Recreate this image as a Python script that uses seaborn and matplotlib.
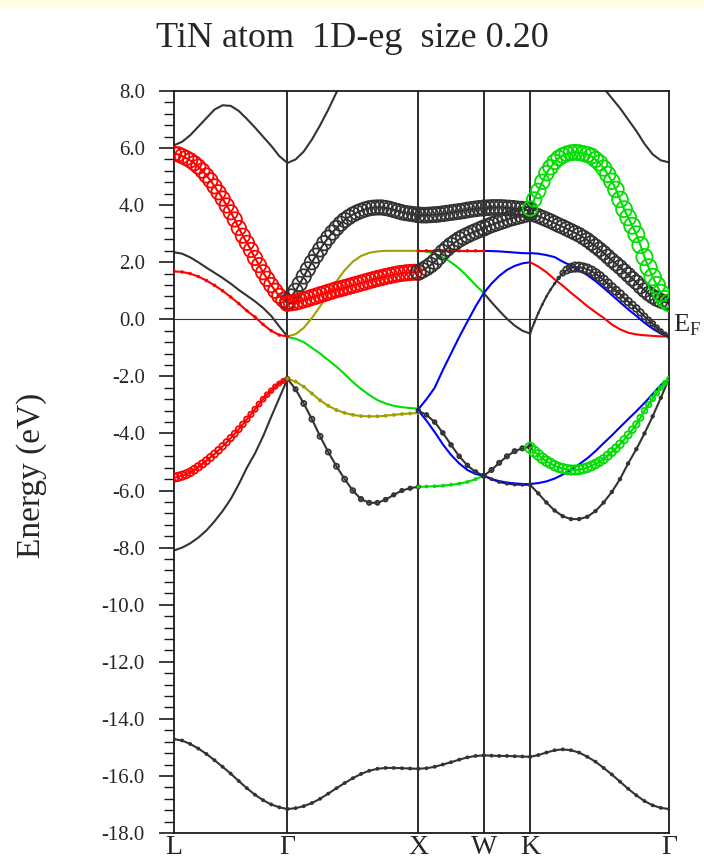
import numpy as np
import pandas as pd
import matplotlib
matplotlib.use("Agg")
import matplotlib.pyplot as plt
import matplotlib.transforms as mtransforms
from matplotlib.patches import Rectangle
from matplotlib.ticker import AutoMinorLocator, FormatStrFormatter
import seaborn as sns

nan = np.nan

# high-symmetry path (fcc), distances in 2pi/a
k_labels = ["L", "Γ", "X", "W", "K", "Γ"]
k_nodes = [0.0, 0.866, 1.866, 2.366, 2.720, 3.781]
# each band list is sampled evenly along its own segment

# ---- L -> Gamma ----
lg_band1 = [-14.71, -14.76, -14.88, -15.04, -15.23, -15.45, -15.68, -15.92, -16.18, -16.43, -16.66, -16.85, -17.0, -17.1, -17.16]
lg_p_black = [-8.1, -8.0, -7.85, -7.65, -7.4, -7.08, -6.72, -6.3, -5.78, -5.2, -4.7, -4.1, -3.42, -2.76, -2.1]
lg_p_red = [-5.55, -5.52, -5.48, -5.43, -5.36, -5.27, -5.17, -5.07, -4.96, -4.84, -4.72, -4.59, -4.45, -4.31, -4.16,
            -4.01, -3.85, -3.68, -3.5, -3.33, -3.15, -2.97, -2.8, -2.64, -2.5, -2.36, -2.25, -2.16, -2.1]
lg_p_red_w = [0.5, 0.5, 0.49, 0.48, 0.47, 0.46, 0.45, 0.44, 0.43, 0.42, 0.41, 0.4, 0.39, 0.38, 0.37,
              0.36, 0.35, 0.34, 0.33, 0.32, 0.31, 0.3, 0.29, 0.28, 0.27, 0.26, 0.25, 0.25, 0.25]
lg_d_red = [1.68, 1.66, 1.6, 1.5, 1.36, 1.19, 1.0, 0.78, 0.55, 0.3, 0.08, -0.18, -0.4, -0.55, -0.6]
lg_d_black = [2.35, 2.3, 2.17, 2.0, 1.81, 1.63, 1.45, 1.25, 1.03, 0.83, 0.63, 0.4, 0.12, -0.25, -0.6]
lg_eg_red = [5.8, 5.78, 5.72, 5.65, 5.57, 5.47, 5.35, 5.21, 5.04, 4.87, 4.66, 4.45, 4.23, 3.99, 3.75,
             3.5, 3.2, 2.93, 2.68, 2.43, 2.15, 1.9, 1.65, 1.42, 1.2, 1.0, 0.82, 0.68, 0.58]
lg_top = [6.1, 6.22, 6.45, 6.75, 7.05, 7.35, 7.5, 7.48, 7.3, 7.02, 6.72, 6.4, 6.08, 5.72, 5.48]

# ---- Gamma -> X ----
gx_band1 = [-17.16, -17.13, -17.06, -16.95, -16.8, -16.62, -16.43, -16.25, -16.08, -15.93, -15.82, -15.75, -15.72, -15.72, -15.73, -15.74, -15.75]
gx_p_black = [-2.08, -2.45, -2.95, -3.5, -4.1, -4.65, -5.15, -5.6, -6.0, -6.3, -6.43, -6.43, -6.32, -6.15, -6.0, -5.92, -5.87]
gx_p_black_w = [0.2, 0.25, 0.3, 0.3, 0.3, 0.3, 0.3, 0.3, 0.28, 0.26, 0.25, 0.24, 0.22, 0.2, 0.2, 0.2, 0.2]
gx_p_olive = [-2.08, -2.18, -2.36, -2.6, -2.84, -3.03, -3.18, -3.28, -3.35, -3.39, -3.4, -3.4, -3.38, -3.35, -3.32, -3.3, -3.28]
gx_d_green = [-0.62, -0.68, -0.8, -1.0, -1.2, -1.43, -1.66, -1.92, -2.2, -2.44, -2.65, -2.83, -2.95, -3.03, -3.08, -3.11, -3.13]
gx_d_olive = [-0.6, -0.52, -0.3, 0.05, 0.45, 0.9, 1.33, 1.72, 2.02, 2.22, 2.33, 2.38, 2.4, 2.4, 2.4, 2.4, 2.4]
gx_eg_red = [0.56, 0.58, 0.6, 0.64, 0.68, 0.72, 0.77, 0.81, 0.86, 0.9, 0.95, 0.99, 1.04, 1.07, 1.11, 1.15, 1.19,
             1.23, 1.27, 1.31, 1.35, 1.39, 1.43, 1.46, 1.5, 1.53, 1.56, 1.59, 1.61, 1.63, 1.64, 1.65, 1.65]
gx_eg_black = [0.62, 0.8, 1.0, 1.24, 1.5, 1.75, 2.0, 2.23, 2.45, 2.67, 2.86, 3.04, 3.2, 3.35, 3.48, 3.58, 3.67,
               3.74, 3.8, 3.85, 3.89, 3.91, 3.92, 3.92, 3.9, 3.87, 3.83, 3.79, 3.75, 3.72, 3.7, 3.68, 3.66]
gx_top = [5.48, 5.6, 5.88, 6.3, 6.8, 7.35, 7.95, 8.5, nan, nan, nan, nan, nan, nan, nan, nan, nan]

# ---- X -> W ----
xw_band1 = [-15.75, -15.73, -15.68, -15.6, -15.52, -15.43, -15.35, -15.3, -15.28]
xw_p_green = [-5.87, -5.86, -5.85, -5.83, -5.8, -5.76, -5.7, -5.6, -5.48]
xw_p_black = [-3.2, -3.35, -3.6, -3.98, -4.4, -4.8, -5.12, -5.35, -5.48]
xw_p_blue = [-3.2, -3.55, -3.95, -4.38, -4.75, -5.05, -5.28, -5.42, -5.48]
xw_d_blue = [-3.15, -2.8, -2.4, -1.78, -1.2, -0.62, -0.08, 0.45, 0.92]
xw_d_green = [2.4, 2.38, 2.3, 2.17, 2.0, 1.78, 1.5, 1.2, 0.92]
xw_d_red = [2.4, 2.4, 2.4, 2.4, 2.4, 2.4, 2.4, 2.4, 2.4]
xw_eg_low = [1.65, 1.72, 1.8, 1.9, 2.02, 2.18, 2.35, 2.48, 2.6, 2.7, 2.8, 2.88, 2.95, 3.02, 3.08, 3.14, 3.2]
xw_eg_up = [3.66, 3.65, 3.65, 3.66, 3.67, 3.68, 3.7, 3.72, 3.74, 3.76, 3.78, 3.8, 3.83, 3.85, 3.87, 3.89, 3.9]

# ---- W -> K ----
wk_band1 = [-15.28, -15.29, -15.3, -15.3, -15.31, -15.32, -15.33]
wk_p_black = [-5.48, -5.6, -5.7, -5.76, -5.79, -5.8, -5.8]
wk_p_blue = [-5.48, -5.6, -5.67, -5.72, -5.75, -5.77, -5.78]
wk_p_black_up = [-5.48, -5.28, -5.03, -4.8, -4.62, -4.52, -4.47]
wk_d_black = [0.92, 0.6, 0.3, 0.02, -0.22, -0.4, -0.5]
wk_d_blue = [0.92, 1.25, 1.52, 1.73, 1.87, 1.96, 2.0]
wk_d_blue_top = [2.4, 2.39, 2.38, 2.36, 2.34, 2.32, 2.31]
wk_eg_low = [3.2, 3.26, 3.32, 3.37, 3.42, 3.47, 3.52, 3.56, 3.6, 3.64, 3.68, 3.72]
wk_eg_up = [3.9, 3.91, 3.92, 3.92, 3.92, 3.91, 3.9, 3.89, 3.87, 3.86, 3.84, 3.82]

# ---- K -> Gamma ----
kg_band1 = [-15.33, -15.27, -15.18, -15.1, -15.07, -15.1, -15.18, -15.33, -15.5, -15.72, -15.95, -16.2, -16.45, -16.68, -16.88, -17.03, -17.12, -17.16]
kg_p_black = [-5.8, -6.1, -6.42, -6.7, -6.9, -7.0, -7.0, -6.92, -6.72, -6.42, -6.05, -5.6, -5.05, -4.55, -4.0, -3.4, -2.75, -2.08]
kg_p_blue = [-5.77, -5.74, -5.68, -5.58, -5.44, -5.28, -5.08, -4.87, -4.62, -4.34, -4.07, -3.78, -3.5, -3.22, -2.93, -2.62, -2.3, -2.08]
kg_p_green = [-4.5, -4.63, -4.75, -4.87, -4.97, -5.05, -5.13, -5.19, -5.23, -5.26, -5.28, -5.28, -5.27, -5.24, -5.2, -5.14, -5.07, -4.99,
              -4.9, -4.78, -4.65, -4.52, -4.38, -4.22, -4.05, -3.87, -3.68, -3.45, -3.2, -2.99, -2.78, -2.59, -2.4, -2.23, -2.08]
kg_p_green_w = [0.6, 0.6, 0.59, 0.58, 0.57, 0.56, 0.56, 0.55, 0.55, 0.55, 0.55, 0.55, 0.55, 0.55, 0.54, 0.53, 0.52, 0.51,
                0.5, 0.49, 0.48, 0.46, 0.45, 0.43, 0.42, 0.4, 0.38, 0.36, 0.34, 0.32, 0.3, 0.28, 0.26, 0.24, 0.22]
kg_d_red = [2.0, 1.85, 1.65, 1.4, 1.18, 0.93, 0.7, 0.46, 0.25, 0.05, -0.18, -0.35, -0.47, -0.53, -0.56, -0.58, -0.6, -0.6]
kg_d_blue = [2.32, 2.3, 2.25, 2.18, 2.02, 1.88, 1.72, 1.55, 1.34, 1.1, 0.85, 0.6, 0.35, 0.12, -0.12, -0.33, -0.5, -0.6]
kg_d_black = [-0.5, -0.12, 0.22, 0.52, 0.8, 1.04, 1.25, 1.45, 1.62, 1.73, 1.8, 1.83, 1.83, 1.8, 1.76, 1.69, 1.6, 1.5,
              1.38, 1.25, 1.12, 1.0, 0.88, 0.75, 0.62, 0.5, 0.38, 0.24, 0.1, -0.03, -0.15, -0.29, -0.42, -0.52, -0.6]
kg_d_black_w = [0.05, 0.05, 0.05, 0.05, 0.05, 0.05, 0.08, 0.15, 0.3, 0.42, 0.5, 0.55, 0.55, 0.55, 0.55, 0.55, 0.55, 0.54,
                0.53, 0.52, 0.5, 0.49, 0.48, 0.46, 0.45, 0.42, 0.4, 0.38, 0.35, 0.32, 0.3, 0.27, 0.25, 0.22, 0.2]
kg_eg_black = [3.72, 3.67, 3.62, 3.56, 3.5, 3.44, 3.37, 3.3, 3.24, 3.17, 3.1, 3.03, 2.96, 2.87, 2.78, 2.67, 2.56, 2.45,
               2.33, 2.2, 2.07, 1.95, 1.83, 1.69, 1.56, 1.42, 1.3, 1.15, 1.02, 0.9, 0.8, 0.71, 0.65, 0.6, 0.58]
kg_eg_green = [3.88, 4.2, 4.5, 4.82, 5.12, 5.33, 5.52, 5.65, 5.74, 5.8, 5.84, 5.85, 5.84, 5.81, 5.77, 5.72, 5.6, 5.48,
               5.3, 5.08, 4.84, 4.55, 4.2, 3.86, 3.57, 3.28, 2.98, 2.6, 2.18, 1.82, 1.48, 1.2, 0.92, 0.7, 0.58]
kg_eg_green_w = [0.86, 0.86, 0.86, 0.86, 0.87, 0.87, 0.87, 0.88, 0.88, 0.88, 0.88, 0.89, 0.89, 0.89, 0.9, 0.9, 0.9, 0.91,
                 0.91, 0.92, 0.92, 0.93, 0.93, 0.94, 0.94, 0.95, 0.95, 0.96, 0.96, 0.97, 0.98, 0.98, 0.99, 1.0, 1.0]
kg_top = [nan, nan, nan, nan, nan, nan, nan, nan, nan, 8.1, 7.75, 7.4, 7.0, 6.6, 6.15, 5.78, 5.57, 5.5]

BLACK = "#333333"
RED = "#ff0000"
GREEN = "#00dd00"
BLUE = "#0000ff"
OLIVE = "#a0a000"

# (segment, colour, energies, eg weight)
curves = [
    (0, BLACK, lg_band1, 0.12), (0, BLACK, lg_p_black, 0.0), (0, RED, lg_p_red, lg_p_red_w),
    (0, RED, lg_d_red, 0.1), (0, BLACK, lg_d_black, 0.0), (0, BLACK, lg_top, 0.0),
    (0, RED, lg_eg_red, 0.85),
    (1, BLACK, gx_band1, 0.12), (1, BLACK, gx_p_black, gx_p_black_w), (1, OLIVE, gx_p_olive, 0.12),
    (1, GREEN, gx_d_green, 0.0), (1, OLIVE, gx_d_olive, 0.0), (1, BLACK, gx_top, 0.0),
    (1, BLACK, gx_eg_black, 0.85), (1, RED, gx_eg_red, 0.9),
    (2, BLACK, xw_band1, 0.12), (2, GREEN, xw_p_green, 0.12), (2, BLACK, xw_p_black, 0.22),
    (2, BLUE, xw_p_blue, 0.0), (2, BLUE, xw_d_blue, 0.0), (2, GREEN, xw_d_green, 0.0),
    (2, RED, xw_d_red, 0.1), (2, BLACK, xw_eg_low, 0.88), (2, BLACK, xw_eg_up, 0.88),
    (3, BLACK, wk_band1, 0.12), (3, BLACK, wk_p_black, 0.12), (3, BLUE, wk_p_blue, 0.0),
    (3, BLACK, wk_p_black_up, 0.25), (3, BLACK, wk_d_black, 0.0), (3, BLUE, wk_d_blue, 0.0),
    (3, BLUE, wk_d_blue_top, 0.0), (3, BLACK, wk_eg_low, 0.88), (3, BLACK, wk_eg_up, 0.88),
    (4, BLACK, kg_band1, 0.12), (4, BLACK, kg_p_black, 0.15), (4, BLUE, kg_p_blue, 0.0),
    (4, GREEN, kg_p_green, kg_p_green_w), (4, RED, kg_d_red, 0.0), (4, BLUE, kg_d_blue, 0.0),
    (4, BLACK, kg_d_black, kg_d_black_w), (4, BLACK, kg_top, 0.0),
    (4, BLACK, kg_eg_black, 0.82), (4, GREEN, kg_eg_green, kg_eg_green_w),
]

rows = []
for i, (seg, col, ener, wt) in enumerate(curves):
    kk = np.linspace(k_nodes[seg], k_nodes[seg + 1], len(ener))
    ww = np.broadcast_to(np.asarray(wt, dtype=float), kk.shape)
    for kv, ev, wv in zip(kk, ener, ww):
        rows.append({"curve": f"c{i:02d}", "k": kv, "E": ev, "w": wv, "color": col})
df = pd.DataFrame(rows).dropna()
palette = {f"c{i:02d}": c[1] for i, c in enumerate(curves)}

sns.set_theme(style="ticks")
plt.rcParams["font.family"] = ["Liberation Serif", "DejaVu Serif"]
plt.rcParams["mathtext.fontset"] = "custom"
plt.rcParams["mathtext.rm"] = "Liberation Serif"

fig = plt.figure(figsize=(7.04, 8.59), dpi=100)
fig.add_artist(Rectangle((0, 1 - 8 / 859), 1, 8 / 859, transform=fig.transFigure,
                         facecolor="#ffffe0", edgecolor="none", zorder=-5))
ax = fig.add_axes([174 / 704, 1 - 833 / 859, 495 / 704, 742 / 859])

for kv in k_nodes[1:-1]:
    ax.axvline(kv, color="#1a1a1a", lw=1.3, zorder=1)
ax.axhline(0, color="#333333", lw=0.8, zorder=1)

sns.lineplot(data=df, x="k", y="E", hue="curve", palette=palette, estimator=None,
             sort=False, legend=False, lw=1.5, ax=ax, zorder=2)

fat = df[df["w"] > 0]
ax.scatter(fat["k"], fat["E"], s=(fat["w"] * 12.2) ** 2, facecolors="none",
           edgecolors=fat["color"], linewidths=1.3, zorder=3)

ax.set_xlim(k_nodes[0], k_nodes[-1])
ax.set_ylim(-18, 8)
ax.set_xticks(k_nodes)
ax.set_xticklabels(k_labels, fontsize=20)
ax.set_yticks(np.arange(-18, 8.01, 2))
ax.yaxis.set_major_formatter(FormatStrFormatter("%.1f"))
ax.yaxis.set_minor_locator(AutoMinorLocator(5))
ax.tick_params(axis="x", length=0, pad=1.5)
ax.tick_params(axis="y", which="major", direction="out", length=11, width=1.2,
               labelsize=15, pad=10, color="#1a1a1a")
ax.tick_params(axis="y", which="minor", direction="out", length=7, width=1.0, color="#1a1a1a")
for sp in ax.spines.values():
    sp.set_color("#1a1a1a")
    sp.set_linewidth(1.3)

ax.set_xlabel("")
ax.set_ylabel("Energy (eV)", fontsize=24)
ax.yaxis.set_label_coords(-0.257, 0.4825)

trans = mtransforms.blended_transform_factory(ax.transAxes, ax.transData)
ax.annotate(r"$\mathrm{E}_\mathrm{F}$", xy=(1, 0), xycoords=trans, xytext=(3.2, -8.6),
            textcoords="offset points", ha="left", va="baseline", fontsize=19,
            annotation_clip=False)

fig.text(0.5, 1 - 47 / 859, "TiN atom  1D-eg  size 0.20", ha="center", va="baseline",
         fontsize=26)

fig.savefig("out.png", dpi=100)
